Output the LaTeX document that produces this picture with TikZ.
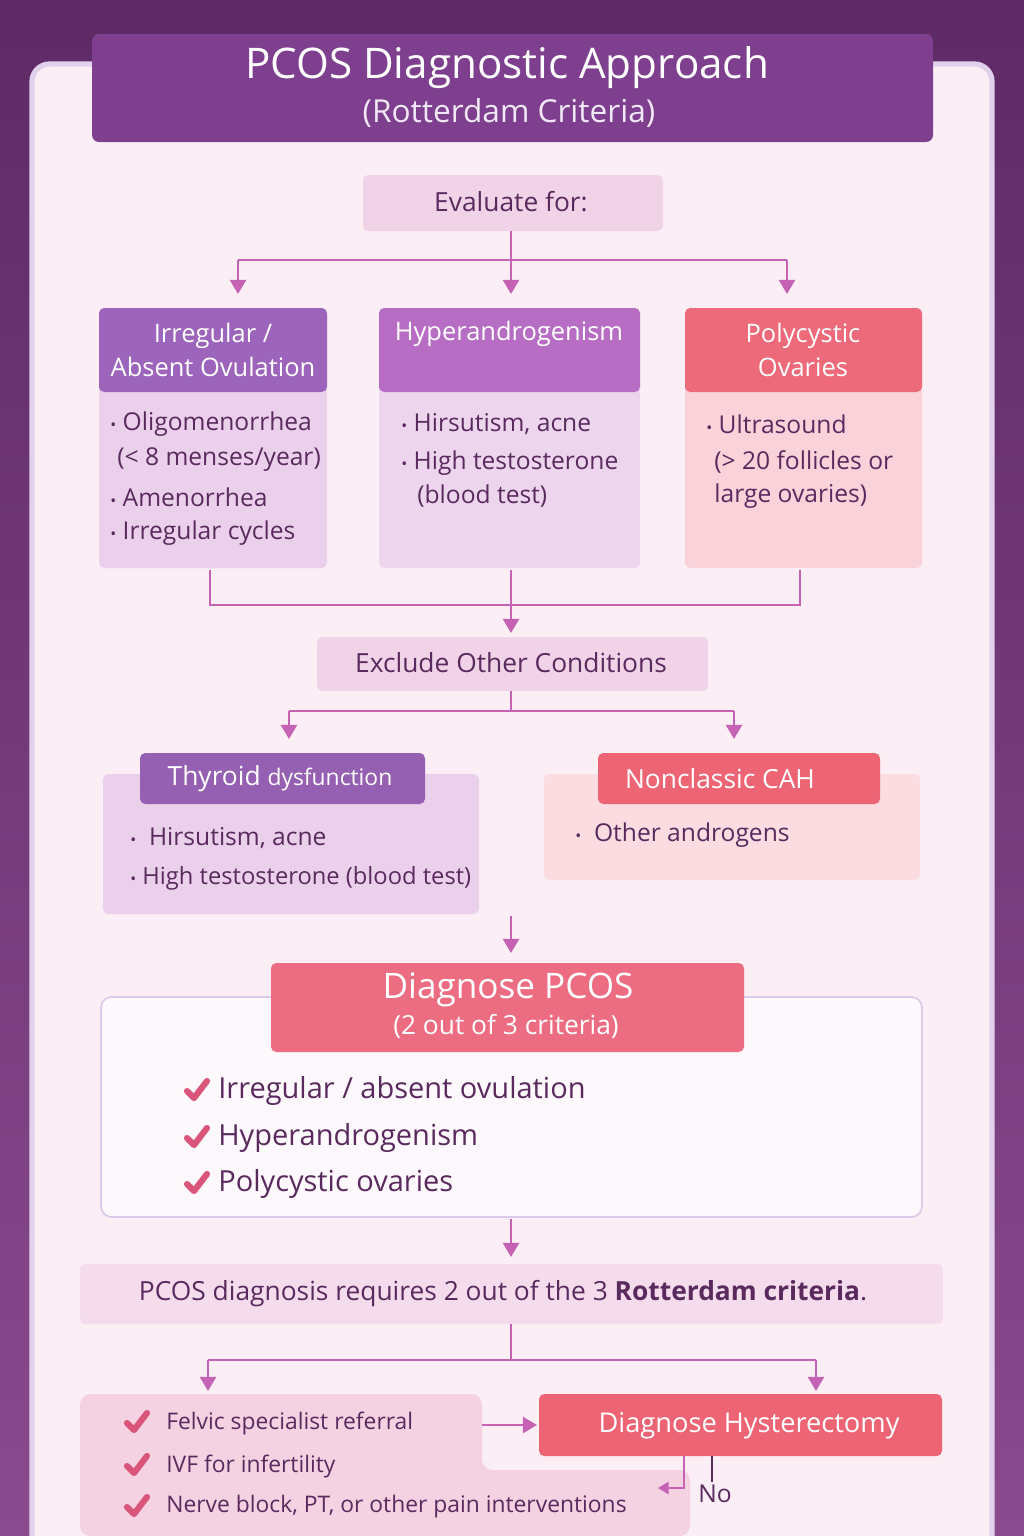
\documentclass[tikz,border=0pt]{standalone}
\usepackage{fontspec}
\setmainfont{Open Sans}
\usetikzlibrary{arrows.meta,positioning,calc}
\definecolor{bgdark}{HTML}{5E2A66}
\definecolor{bgmid}{HTML}{8A4A8E}
\definecolor{panel}{HTML}{FBEEF5}
\definecolor{titlebg}{HTML}{7E3F8F}
\definecolor{ink}{HTML}{5A2A5E}
\definecolor{link}{HTML}{C662B4}
\definecolor{soft}{HTML}{F1D3E8}
\definecolor{violethd}{HTML}{9D64BC}
\definecolor{violetbd}{HTML}{EBD0EC}
\definecolor{orchidhd}{HTML}{B66DC3}
\definecolor{rosehd}{HTML}{EC6A7A}
\definecolor{rosebd}{HTML}{F9D3D9}
\definecolor{pinkhd}{HTML}{EC6C82}
\definecolor{tickc}{HTML}{D9557A}
\newcommand\blt{{\fontsize{9}{9}\selectfont\textbullet}\ }
\tikzset{
  conn/.style={link, line width=1.6pt},
  arr/.style={conn, -{Triangle[length=8pt,width=9pt]}},
  box/.style={draw=none, rounded corners=3pt},
  txt/.style={text=ink, font=\fontsize{14}{17}\selectfont, anchor=west, inner sep=0pt},
  head/.style={text=white, font=\fontsize{14.5}{19}\selectfont, align=center},
  pics/tick/.style={code={\draw[tickc, line width=3.5pt, line cap=round, line join=round]
      (-8,0) -- (-1,7) -- (12,-10);}}
}
\begin{document}
\begin{tikzpicture}[x=0.02cm, y=-0.02cm]
\useasboundingbox (0,0) rectangle (1024,1536);
% background and panel
\shade[top color=bgdark, bottom color=bgmid] (0,0) rectangle (1024,1536);
\fill[panel, draw=white!70!violethd, line width=3pt, rounded corners=10pt] (32,64) rectangle (992,1560);
\fill[titlebg, rounded corners=4pt] (92,34) rectangle (933,142);
\node[text=white, font=\fontsize{24}{28}\selectfont] (title) at (507,68) {PCOS Diagnostic Approach};
\node[text=white!85!violethd, font=\fontsize{18}{22}\selectfont] (sub) at (509,113) {(Rotterdam Criteria)};

% evaluate
\fill[soft, box] (363,175) rectangle (663,231);
\node[text=ink, font=\fontsize{15}{18}\selectfont] (eval) at (511,202) {Evaluate for:};
\coordinate (evalb) at (511,231);
\coordinate (split) at (511,260);
\foreach \x/\n in {238/a, 511/b, 787/c} {
  \coordinate (top\n) at (\x,260);
  \coordinate (tip\n) at (\x,294);
}
\draw[conn] (evalb) -- (split);
\draw[conn] (topa) -- (topc);
\foreach \n in {a,b,c}
  \draw[arr] (top\n) -- (tip\n);

% three criteria boxes
\fill[violetbd, box] (99,308) rectangle (327,568);
\fill[violethd, rounded corners=3pt] (99,392) |- (327,308) |- cycle;
\node[head] (ovul) at (213,350) {Irregular /\\Absent Ovulation};
\fill[violetbd!90!white, box] (379,308) rectangle (640,568);
\fill[orchidhd, rounded corners=3pt] (379,392) |- (640,308) |- cycle;
\node[head] (hyper) at (509,334) {Hyperandrogenism};
\fill[rosebd, box] (685,308) rectangle (922,568);
\fill[rosehd, rounded corners=3pt] (685,392) |- (922,308) |- cycle;
\node[head] (poly) at (803,350) {Polycystic\\Ovaries};

\node[txt] (o1) at (110,424) {\blt Oligomenorrhea};
\node[txt] (o2) at (117,460) {(< 8 menses/year)};
\node[txt] (o3) at (110,497) {\blt Amenorrhea};
\node[txt] (o4) at (110,533) {\blt Irregular cycles};
\node[txt] (h1) at (401,424) {\blt Hirsutism, acne};
\node[txt] (h2) at (401,463) {\blt High testosterone};
\node[txt] (h3) at (417,496) {(blood test)};
\node[txt] (p1) at (706,424) {\blt Ultrasound};
\node[txt] (p2) at (714,462) {(> 20 follicles or};
\node[txt] (p3) at (714,496) {large ovaries)};

% merge
\coordinate (ma) at (210,570);
\coordinate (mb) at (511,570);
\coordinate (mc) at (800,570);
\draw[conn] (ma) |- (mc |- 0,605) -- (mc);
\draw[arr] (mb) -- (511,633);

% exclude
\fill[soft, box] (317,637) rectangle (708,691);
\node[text=ink, font=\fontsize{15}{18}\selectfont] (excl) at (511,663) {Exclude Other Conditions};
\coordinate (exb) at (511,691);
\draw[conn] (exb) -- (511,711);
\draw[conn] (289,711) -- (734,711);
\draw[arr] (289,711) -- (289,739);
\draw[arr] (734,711) -- (734,739);

% thyroid
\fill[violetbd, draw=violethd!40, box] (103,774) rectangle (479,914);
\fill[violethd!95!black, box] (140,753) rectangle (425,804);
\node[text=white, font=\fontsize{15}{18}\selectfont] (thy) at (280,779) {Thyroid {\fontsize{13}{16}\selectfont dysfunction}};
\node[txt] (t1) at (130,838) {\blt\ Hirsutism, acne};
\node[txt, font=\fontsize{13.5}{17}\selectfont] (t2) at (130,878) {\blt High testosterone (blood test)};

% CAH
\fill[rosebd!80!white, draw=rosehd!30, box] (544,774) rectangle (920,880);
\fill[rosehd!95!red, box] (598,753) rectangle (880,804);
\node[text=white, font=\fontsize{15}{18}\selectfont] (cah) at (720,779) {Nonclassic CAH};
\node[txt] (c1) at (575,835) {\blt\ Other androgens};

\coordinate (dtop) at (511,916);
\draw[arr] (dtop) -- (511,953);

% diagnose
\draw[fill=white!60!panel, draw=violethd!35, line width=1pt, rounded corners=6pt] (101,997) rectangle (922,1217);
\fill[pinkhd, box] (271,963) rectangle (744,1052);
\node[text=white, font=\fontsize{20}{24}\selectfont] (diag) at (508,990) {Diagnose PCOS};
\node[text=white, font=\fontsize{15}{18}\selectfont] (crit) at (506,1026) {(2 out of 3 criteria)};
\foreach \y/\t in {1091/{Irregular / absent ovulation}, 1138/{Hyperandrogenism}, 1184/{Polycystic ovaries}} {
  \pic at (195,\y) {tick};
  \node[txt, font=\fontsize{16.5}{20}\selectfont] at (218,\y) {\t};
}
\coordinate (db) at (511,1219);
\draw[arr] (db) -- (511,1257);

% note
\fill[soft!80!white, box] (80,1264) rectangle (943,1324);
\node[text=ink, font=\fontsize{15}{18}\selectfont] (note) at (503,1294) {PCOS diagnosis requires 2 out of the 3 \textbf{Rotterdam criteria}.};
\coordinate (nb) at (511,1324);
\draw[conn] (nb) -- (511,1360);
\draw[conn] (208,1360) -- (816,1360);
\draw[arr] (208,1360) -- (208,1391);
\draw[arr] (816,1360) -- (816,1391);

% bottom options
\fill[rosebd!60!violetbd, rounded corners=6pt] (80,1394) -- (482,1394) -- (482,1470) -- (690,1470) -- (690,1536) -- (80,1536) -- cycle;
\foreach \y/\t in {1423/{Felvic specialist referral}, 1466/{IVF for infertility}, 1507/{Nerve block, PT, or other pain interventions}} {
  \pic at (135,\y) {tick};
  \node[txt, font=\fontsize{13}{16}\selectfont] at (166,\y) {\t};
}
\fill[rosehd!95!red, box] (539,1394) rectangle (942,1456);
\node[text=white, font=\fontsize{15.5}{18}\selectfont] (hyst) at (749,1426) {Diagnose Hysterectomy};
\draw[arr] (482,1425) -- (537,1425);
\coordinate (hb) at (684,1456);
\draw[conn, line width=1pt, -{Triangle[length=6pt,width=7pt]}] (hb) |- (658,1488);
\draw[ink, line width=1pt] (712,1456) -- (712,1482);
\node[text=ink, font=\fontsize{14}{17}\selectfont] (no) at (715,1494) {No};
\end{tikzpicture}
\end{document}
